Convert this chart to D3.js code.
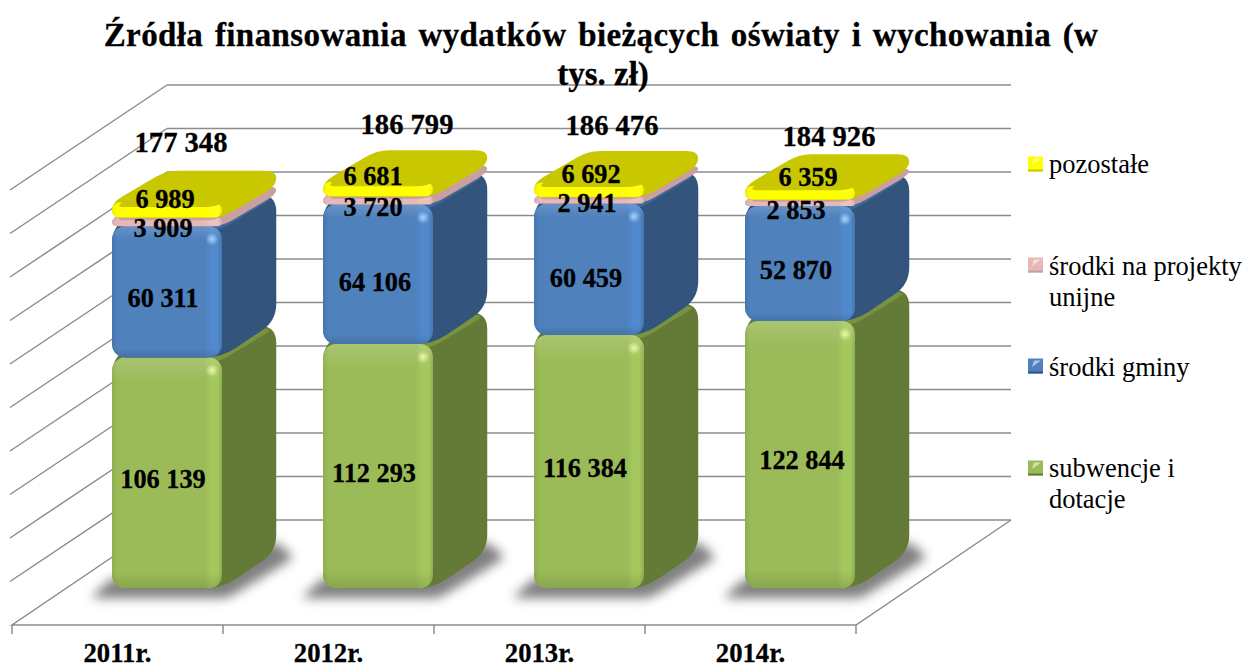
<!DOCTYPE html>
<html><head><meta charset="utf-8">
<script src="https://cdn.jsdelivr.net/npm/d3@7/dist/d3.min.js"></script>
<style>html,body{margin:0;background:#fff}svg{display:block}text{font-family:"Liberation Serif",serif;fill:#000}</style>
</head><body><div id="c"></div>
<script>
const categories = ["2011r.","2012r.","2013r.","2014r."];
const subwencje = [106139,112293,116384,122844];
const gminy = [60311,64106,60459,52870];
const projekty = [3909,3720,2941,2853];
const pozostale = [6989,6681,6692,6359];
const totals = [177348,186799,186476,184926];
const seriesNames = ["subwencje i dotacje","środki gminy","środki na projekty unijne","pozostałe"];
const seriesValues = [subwencje,gminy,projekty,pozostale];
const titleLines = ["Źródła finansowania wydatków bieżących oświaty i wychowania (w","tys. zł)"];

// label nudges (layout only), [dx,dy] from the default centred position
const segNudge = [
 [[-4,6],[-4,7],[-4,7],[2,6]],
 [[-4,6.5],[-3,8],[-3,9],[-4,7]],
 [[-4,6],[-5,7],[-2,3],[-4,7]],
 [[-2,-11],[-5,-13],[2,-16],[8,-16]]
];
const totalNudge = [[14,-60],[29,-57],[23,-57],[29,-49]];

const W=1244,H=668;
const svg=d3.select("#c").append("svg").attr("width",W).attr("height",H);
const defs=svg.append("defs");
const x=d3.scaleBand().domain(categories).range([12,856]);
const y=d3.scaleLinear().domain([0,200000]).range([520,85]);
const DX=155,DY=105;
const zFront=.35,zBack=.70;
const barW=x.bandwidth()*.5213, barShift=x.bandwidth()/2-barW/2-4.75;
const fmt=v=>d3.format(",")(v).replace(/,/g," ");

const palette=[
 {front:"#9bbb59",light:"#a4c75d",dark:"#8fae50",side:"#647a37",top:"#78933f",glow:"#f4ffb0"},
 {front:"#4f81bd",light:"#5089cc",dark:"#4676ae",side:"#32547d",top:"#3d6898",glow:"#b4dcff"},
 {front:"#e6b8b7",light:"#ecc2c0",dark:"#dcaead",side:"#c9a09f",top:"#c9a09f",glow:"#ffffff"},
 {front:"#ffff00",light:"#ffff10",dark:"#f2f200",side:"#c9c800",top:"#c9c800",glow:"#ffffff"}
];
palette.forEach((p,i)=>{
 const g=defs.append("linearGradient").attr("id","h"+i);
 [[0,p.dark],[.05,p.front],[.84,p.front],[.9,p.light],[.96,p.light],[1,p.dark]].forEach(s=>g.append("stop").attr("offset",s[0]).attr("stop-color",s[1]));
 const v=defs.append("linearGradient").attr("id","v"+i).attr("x2",0).attr("y2",1);
 [[0,"#fff",.14],[.1,"#fff",.0],[.93,"#000",0],[1,"#000",.12]].forEach(s=>v.append("stop").attr("offset",s[0]).attr("stop-color",s[1]).attr("stop-opacity",s[2]));
 const r=defs.append("radialGradient").attr("id","g"+i);
 r.append("stop").attr("offset",0).attr("stop-color",p.glow).attr("stop-opacity",.9);
 r.append("stop").attr("offset",1).attr("stop-color",p.glow).attr("stop-opacity",0);
});
const bl=defs.append("filter").attr("id","blur").attr("x","-30%").attr("y","-30%").attr("width","160%").attr("height","160%");
bl.append("feGaussianBlur").attr("stdDeviation",5.5);
const soft=defs.append("filter").attr("id","soft");
soft.append("feGaussianBlur").attr("stdDeviation",.45);

function roundPoly(pts,r){
 const n=pts.length;let d="";
 for(let i=0;i<n;i++){
  const p=pts[i],a=pts[(i-1+n)%n],b=pts[(i+1)%n];
  const la=Math.hypot(a[0]-p[0],a[1]-p[1]),lb=Math.hypot(b[0]-p[0],b[1]-p[1]);
  const ra=Math.min(r,la/2),rb=Math.min(r,lb/2);
  const s=[p[0]+(a[0]-p[0])*ra/la,p[1]+(a[1]-p[1])*ra/la];
  const e=[p[0]+(b[0]-p[0])*rb/lb,p[1]+(b[1]-p[1])*rb/lb];
  d+=(i?"L":"M")+s[0]+","+s[1]+"Q"+p[0]+","+p[1]+" "+e[0]+","+e[1];
 }
 return d+"Z";
}

const grid=svg.append("g").attr("fill","none").attr("stroke","#8c8c8c").attr("stroke-width",1.5).attr("filter","url(#soft)");
const x0=x.range()[0],x1=x.range()[1];
y.ticks(10).forEach(t=>{
 const yy=y(t);
 grid.append("path").attr("d",`M${x0+DX},${yy}L${x1+DX},${yy}`);
 if(t>0) grid.append("path").attr("d",`M${x0+DX},${yy}L${x0-2},${yy+DY}`);
});
const floorY=y(0);
grid.append("path").attr("d",`M${x0+DX},${floorY}L${x0},${floorY+DY}L${x1},${floorY+DY}L${x1+DX},${floorY}`);
const axisG=svg.append("g").attr("transform",`translate(0,${floorY+DY})`);
[...categories.map(c=>x(c)),x1].forEach(px=>axisG.append("line").attr("x1",px).attr("x2",px).attr("y1",0).attr("y2",9).attr("stroke","#8c8c8c").attr("stroke-width",1.5));
const ax=d3.axisBottom(x).tickSize(0).tickPadding(0);
axisG.call(ax).call(g=>g.select(".domain").remove());
axisG.selectAll(".tick text").attr("font-size",26.7).attr("font-weight","bold").attr("font-family","Liberation Serif").attr("fill","#000").attr("stroke","#000").attr("stroke-width",.3).attr("dy",null).attr("y",37);

const bars=svg.append("g");
const dxB=DX*zBack-DX*zFront, dyB=-(DY*zBack-DY*zFront);
const base=DY*(1-zFront);
const inset=5;
const barX=i=>x(categories[i])+DX*zFront+barShift;
categories.forEach((c,i)=>{
 const L=barX(i),R=L+barW,B=y(0)+base;
 bars.append("path").attr("filter","url(#blur)").attr("fill","#606060").attr("opacity",.8)
  .attr("d",roundPoly([[L-22,B+10],[R+6,B+10],[R+dxB+18,B+dyB+6],[R+dxB,B+dyB-10],[L,B-10]],6));
});
categories.forEach((c,i)=>{
 let cum=0;
 const L=barX(i),R=L+barW;
 seriesValues.forEach((vals,s)=>{
  const v=vals[i],p=palette[s];
  const yB=y(cum)+base, yT=y(cum+v)+base;
  const h=yB-yT, big=h>40, r=big?13:h/2;
  const g=bars.append("g");
  const rearT=yT+dyB+inset;
  g.append("path").attr("fill",p.side).attr("d",big
    ? roundPoly([[L,yB],[R,yB],[R+dxB,yB+dyB],[R+dxB,rearT],[L+dxB,rearT],[L,yT]],17)
    : roundPoly([[L,yB],[R,yB],[R+dxB,yB+dyB+inset],[R+dxB,rearT],[L+dxB,rearT],[L,yT]],12));
  if(big){
   g.append("path").attr("fill",p.top).attr("d",roundPoly([[L+4,yT+4],[R-2,yT+4],[R+dxB-2,rearT+3],[L+dxB,rearT+1]],10));
  }
  g.append("rect").attr("x",L).attr("y",yT).attr("width",barW).attr("height",h).attr("rx",r).attr("fill",`url(#h${s})`);
  g.append("rect").attr("x",L).attr("y",yT).attr("width",barW).attr("height",h).attr("rx",r).attr("fill",`url(#v${s})`);
  if(!big){
   const frontEdge=yT+h*.3;
   g.append("path").attr("fill",p.top)
    .attr("d",roundPoly([[L+2,frontEdge],[R-6,frontEdge],[R+dxB,rearT+1],[L+dxB+8,rearT+1]],11));
  } else {
   g.append("circle").attr("cx",R-10).attr("cy",yT+13).attr("r",6.5).attr("fill",`url(#g${s})`);
  }
  cum+=v;
 });
});

const labels=svg.append("g").attr("font-weight","bold").attr("text-anchor","middle").attr("stroke","#000").attr("stroke-width",.3);
categories.forEach((c,i)=>{
 let cum=0;const cx=barX(i)+barW/2;
 seriesValues.forEach((vals,s)=>{
  const v=vals[i],mid=y(cum+v/2)+base,n=segNudge[s][i];
  labels.append("text").attr("x",cx+n[0]).attr("y",mid+n[1]).attr("dy",".33em").attr("font-size",26.3).text(fmt(v));
  cum+=v;
 });
 const n=totalNudge[i];
 labels.append("text").attr("x",cx+n[0]).attr("y",y(totals[i])+base+n[1]).attr("dy",".33em").attr("font-size",28.6).text(fmt(totals[i]));
});

const legendRows=[
 {s:3,lines:["pozostałe"],sy:164,by:173},
 {s:2,lines:["środki na projekty","unijne"],sy:265,by:275},
 {s:1,lines:["środki gminy"],sy:366,by:376},
 {s:0,lines:["subwencje i","dotacje"],sy:468,by:477}
];
const lg=svg.append("g");
legendRows.forEach(d=>{
 const p=palette[d.s];
 lg.append("rect").attr("x",1028).attr("y",d.sy-7.5).attr("width",15).attr("height",15).attr("fill",p.front);
 lg.append("rect").attr("x",1028).attr("y",d.sy+5.5).attr("width",15).attr("height",2).attr("fill",p.side);
 lg.append("path").attr("d",`M1041,${d.sy-5.5}L1034,${d.sy-5.5}L1032,${d.sy+1}Z`).attr("fill","#fff").attr("opacity",.55);
 d.lines.forEach((t,i)=>lg.append("text").attr("x",1049).attr("y",d.by+i*31).attr("font-size",26.5).text(t));
});

const tg=svg.append("g").attr("font-weight","bold").attr("text-anchor","middle").attr("font-size",33).attr("stroke","#000").attr("stroke-width",.3);
tg.append("text").attr("x",601).attr("y",46).attr("word-spacing",3).attr("letter-spacing",.4).text(titleLines[0]);
tg.append("text").attr("x",603).attr("y",85).text(titleLines[1]);
</script></body></html>
